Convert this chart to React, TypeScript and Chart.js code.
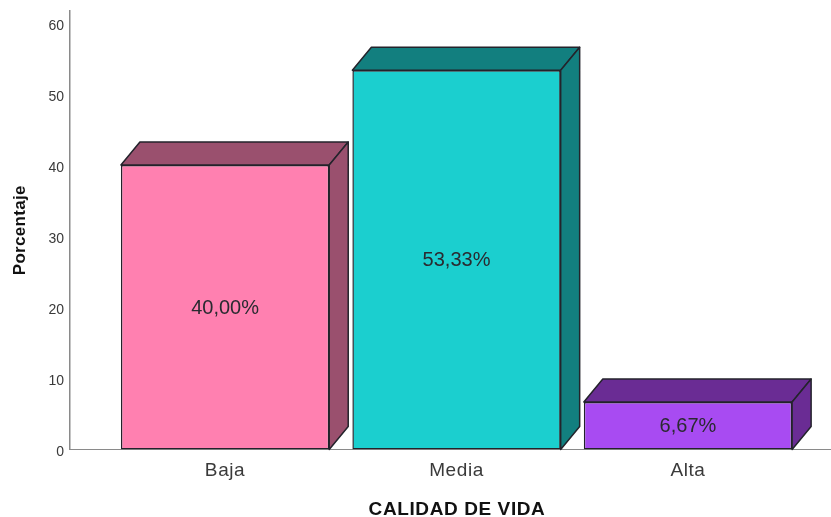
import React, { useEffect, useRef } from "react";
import { Chart, registerables } from "chart.js";

Chart.register(...registerables);

const categories = ["Baja", "Media", "Alta"];
const categoryPositions = [0, 1, 2];
const percentages = [40, 53.33, 6.67];
const valueLabels = ["40,00%", "53,33%", "6,67%"];
const frontColors = ["#FF80B0", "#1BCFCF", "#A84BF2"];
const shadeColors = ["#9A506E", "#127F7F", "#6A2C94"];
const yTicks = [0, 10, 20, 30, 40, 50, 60];

const FONT = "'Liberation Sans', Arial, sans-serif";
const DEPTH_X = 19;
const DEPTH_Y = 23;
const OUTLINE = "#23232b";

const bar3d = {
  id: "bar3d",
  afterDatasetsDraw(chart: any) {
    const { ctx } = chart;
    const meta = chart.getDatasetMeta(0);
    meta.data.forEach((el: any, i: number) => {
      const l = el.x - el.width / 2;
      const r = el.x + el.width / 2;
      const t = el.y;
      const b = el.base;
      ctx.save();
      ctx.fillStyle = shadeColors[i];
      ctx.strokeStyle = OUTLINE;
      ctx.lineWidth = 1.5;
      ctx.lineJoin = "round";
      ctx.beginPath();
      ctx.moveTo(l, t);
      ctx.lineTo(l + DEPTH_X, t - DEPTH_Y);
      ctx.lineTo(r + DEPTH_X, t - DEPTH_Y);
      ctx.lineTo(r, t);
      ctx.closePath();
      ctx.fill();
      ctx.stroke();
      ctx.beginPath();
      ctx.moveTo(r, t);
      ctx.lineTo(r + DEPTH_X, t - DEPTH_Y);
      ctx.lineTo(r + DEPTH_X, b - DEPTH_Y);
      ctx.lineTo(r, b);
      ctx.closePath();
      ctx.fill();
      ctx.stroke();
      ctx.fillStyle = "#2a2a30";
      ctx.font = `20px ${FONT}`;
      ctx.textAlign = "center";
      ctx.textBaseline = "middle";
      ctx.fillText(valueLabels[i], el.x, (t + b) / 2 + 1);
      ctx.restore();
    });
  },
};

const spaced = (s: any, method: string, spacing: string, dx = 0, dy = 0) => {
  const original = s[method].bind(s);
  s[method] = (...args: any[]) => {
    s.ctx.save();
    s.ctx.letterSpacing = spacing;
    s.ctx.translate(dx, dy);
    original(...args);
    s.ctx.restore();
  };
};

export default function App() {
  const ref = useRef<HTMLCanvasElement>(null);
  useEffect(() => {
    document.body.style.margin = "0";
    document.body.style.background = "#fff";
    const chart = new Chart(ref.current!, {
      type: "bar",
      data: {
        datasets: [
          {
            data: categoryPositions.map((x, i) => ({ x, y: percentages[i] })),
            backgroundColor: frontColors,
            borderColor: OUTLINE,
            borderWidth: 1.5,
            borderSkipped: false,
            barPercentage: 0.9,
            categoryPercentage: 1,
          },
        ],
      },
      plugins: [bar3d],
      options: {
        responsive: false,
        animation: false,
        layout: { padding: { top: 11, right: 0, left: 0, bottom: 0 } },
        plugins: { legend: { display: false }, tooltip: { enabled: false } },
        scales: {
          x: {
            type: "linear",
            offset: false,
            min: -0.67,
            max: 2.618,
            grid: { display: false, drawTicks: false },
            border: { color: "#8a8a8a", width: 1 },
            afterBuildTicks: (s: any) => {
              s.ticks = categoryPositions.map((value) => ({ value }));
            },
            afterFit: (s: any) => {
              s.height = 67.5;
              spaced(s, "drawTitle", "0.6px", 6.5, 2);
              spaced(s, "drawLabels", "0.6px");
            },
            ticks: {
              autoSkip: false,
              maxRotation: 0,
              padding: 9.5,
              color: "#3a3a3a",
              font: { family: FONT, size: 19 },
              callback: (v: any) => categories[v],
            },
            title: {
              display: true,
              text: "CALIDAD DE VIDA",
              color: "#111",
              font: { family: FONT, size: 19, weight: "bold" },
              padding: { top: 0, bottom: -2 },
            },
          },
          y: {
            min: 0,
            max: 61.67,
            grid: { display: false, drawTicks: false },
            border: { color: "#8a8a8a", width: 1.5 },
            afterBuildTicks: (s: any) => {
              s.ticks = yTicks.map((value) => ({ value }));
            },
            afterFit: (s: any) => {
              s.width = 70;
              s.paddingTop = 0;
              s.paddingBottom = 0;
              spaced(s, "drawTitle", "0.3px");
              spaced(s, "drawLabels", "0px", 0, 1.5);
            },
            ticks: {
              padding: 6,
              color: "#3a3a3a",
              font: { family: FONT, size: 14 },
            },
            title: {
              display: true,
              text: "Porcentaje",
              color: "#111",
              font: { family: FONT, size: 17, weight: "bold" },
              padding: { top: 10.5, bottom: 0 },
            },
          },
        },
      },
    } as any);
    return () => chart.destroy();
  }, []);
  return <canvas ref={ref} width={831} height={517} style={{ display: "block" }} />;
}
